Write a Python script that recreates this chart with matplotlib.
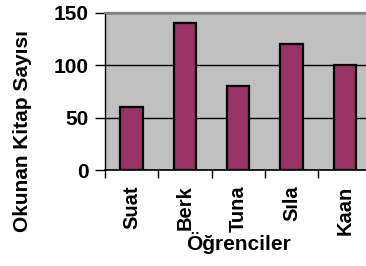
import numpy as np
import matplotlib
matplotlib.use("Agg")
import matplotlib.pyplot as plt

# data
ogrenciler = ["Suat", "Berk", "Tuna", "Sıla", "Kaan"]
kitap_sayisi = [60, 140, 80, 120, 100]
y_ticks = [0, 50, 100, 150]

plt.rcParams["font.family"] = ["Liberation Sans", "DejaVu Sans"]
plt.rcParams["font.weight"] = "bold"

fig = plt.figure(figsize=(3.66, 2.66), dpi=100)
ax = fig.add_axes([105 / 366, 96 / 266, 266.5 / 366, 157 / 266])
ax.set_facecolor("#C0C0C0")

x = np.arange(len(ogrenciler))
ax.bar(x, kitap_sayisi, width=0.42, color="#993366", edgecolor="black", linewidth=1.6, zorder=3)

ax.set_xlim(-0.5, len(ogrenciler) - 0.5)
ax.set_ylim(0, 150)
ax.set_yticks(y_ticks)
ax.set_yticklabels([str(v) for v in y_ticks], fontsize=15, fontweight="bold")
ax.yaxis.grid(True, color="black", linewidth=1, zorder=1)

# category labels at centres, tick marks on category boundaries
ax.set_xticks(x)
ax.set_xticklabels(ogrenciler, rotation=90, fontsize=14.5, fontweight="bold")
ax.set_xticks(np.arange(-0.5, len(ogrenciler) + 0.5, 1), minor=True)
ax.tick_params(axis="x", which="major", length=0, pad=11)
ax.tick_params(axis="x", which="minor", length=6, width=1, color="black", direction="out")
ax.tick_params(axis="y", length=7, width=1, pad=5, direction="out")

ax.spines["right"].set_visible(False)
ax.spines["top"].set_color("#808080")
ax.spines["top"].set_linewidth(1.6)
ax.spines["left"].set_linewidth(1)
ax.spines["bottom"].set_linewidth(1.2)

ax.set_xlabel("Öğrenciler", fontsize=15, fontweight="bold", labelpad=-2)
fig.text(23 / 366, 1 - 131 / 266, "Okunan Kitap Sayısı", rotation=90, fontsize=15,
         fontweight="bold", ha="center", va="center")

fig.savefig("out.png", dpi=100)
